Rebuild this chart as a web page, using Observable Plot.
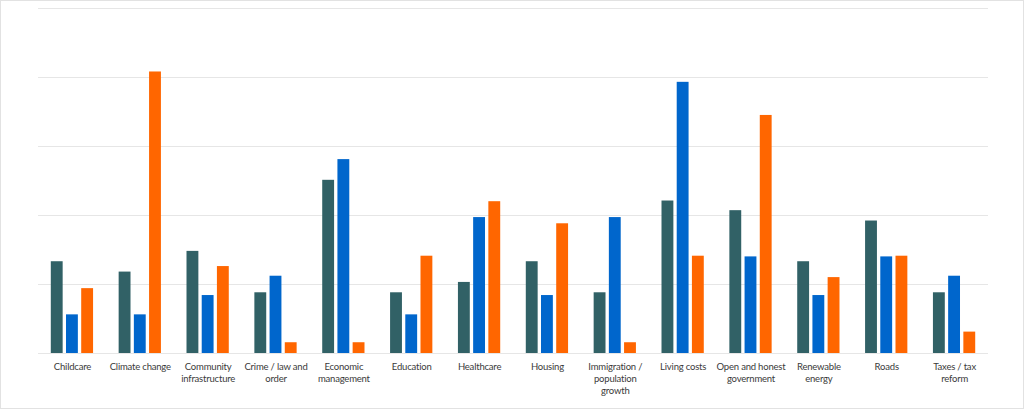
<!DOCTYPE html>
<html>
<head>
<meta charset="utf-8">
<script src="https://cdn.jsdelivr.net/npm/d3@7"></script>
<script src="https://cdn.jsdelivr.net/npm/@observablehq/plot@0.6"></script>
<style>
  html, body { margin: 0; padding: 0; background: #fff; }
  #wrap { position: relative; width: 1024px; height: 409px; }
  #wrap svg { position: absolute; left: 0; top: 0; }
  #border { position: absolute; left: 0; top: 0; width: 1024px; height: 409px; box-sizing: border-box; border: 1px solid #e2e2e2; pointer-events: none; }
</style>
</head>
<body>
<div id="wrap"><div id="border"></div></div>
<script>
const categories = [
  "Childcare", "Climate change", "Community infrastructure", "Crime / law and order",
  "Economic management", "Education", "Healthcare", "Housing",
  "Immigration / population growth", "Living costs", "Open and honest government",
  "Renewable energy", "Roads", "Taxes / tax reform"
];
const tickLabels = [
  "Childcare", "Climate change", "Community\ninfrastructure", "Crime / law and\norder",
  "Economic\nmanagement", "Education", "Healthcare", "Housing",
  "Immigration /\npopulation\ngrowth", "Living costs", "Open and honest\ngovernment",
  "Renewable\nenergy", "Roads", "Taxes / tax\nreform"
];
const seriesNames = ["Series 1", "Series 2", "Series 3"];
const seriesColors = ["#316166", "#0066cc", "#ff6600"];

const series1 = [6.65, 5.9, 7.4, 4.4, 12.55, 4.4, 5.15, 6.65, 4.4, 11.05, 10.35, 6.65, 9.6, 4.4];
const series2 = [2.8, 2.8, 4.2, 5.6, 14.05, 2.8, 9.85, 4.2, 9.85, 19.65, 7.0, 4.2, 7.0, 5.6];
const series3 = [4.7, 20.4, 6.3, 0.78, 0.78, 7.05, 11.0, 9.4, 0.78, 7.05, 17.25, 5.5, 7.05, 1.55];
const gridTicks = [0, 5, 10, 15, 20, 25];

const allSeries = [series1, series2, series3];
const data = [];
categories.forEach((c, i) => {
  allSeries.forEach((s, j) => data.push({category: c, series: seriesNames[j], value: s[i]}));
});
const labelOf = new Map(categories.map((c, i) => [c, tickLabels[i]]));

const common = {
  width: 1024,
  height: 409,
  marginLeft: 38,
  marginRight: 36,
  marginTop: 8,
  marginBottom: 56,
  style: {fontFamily: "Lato, 'Liberation Sans', sans-serif", background: "transparent", letterSpacing: "-0.2px"}
};

// background layer: horizontal gridlines spanning the full plot width
const grid = Plot.plot({
  ...common,
  y: {domain: [0, 25], axis: null},
  marks: [Plot.ruleY(gridTicks, {stroke: "#e6e6e6", strokeWidth: 1})]
});

// foreground layer: grouped bars
const chart = Plot.plot({
  ...common,
  fx: {domain: categories, paddingInner: 0.377, paddingOuter: 0.1885, round: false, label: null},
  x: {domain: seriesNames, paddingInner: 0.22, paddingOuter: 0, round: false, axis: null},
  y: {domain: [0, 25], axis: null},
  color: {domain: seriesNames, range: seriesColors},
  marks: [
    Plot.barY(data, {fx: "category", x: "series", y: "value", fill: "series"}),
    Plot.axisFx({
      anchor: "bottom",
      tickSize: 0,
      tickPadding: 8,
      fontSize: 9.5,
      lineHeight: 1.26,
      fill: "#3a3a3a",
      label: null,
      tickFormat: d => labelOf.get(d)
    })
  ]
});
const wrap = document.getElementById("wrap");
wrap.prepend(chart);
wrap.prepend(grid);
</script>
</body>
</html>
